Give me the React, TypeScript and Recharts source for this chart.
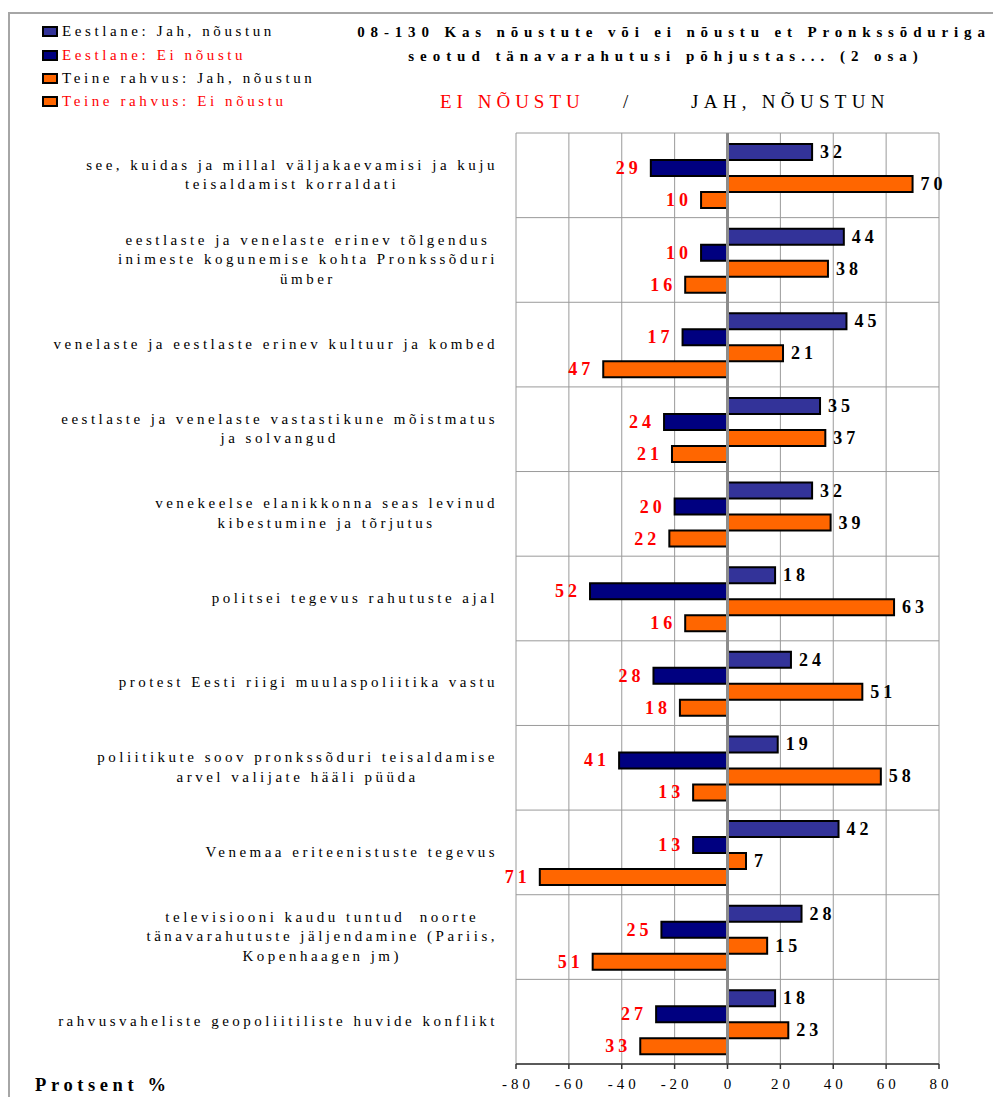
import React from "react";
import {
  BarChart,
  Bar,
  XAxis,
  YAxis,
  CartesianGrid,
  ReferenceLine,
  LabelList,
  Legend,
} from "recharts";

const categories: string[] = [
  "see, kuidas ja millal väljakaevamisi ja kuju\nteisaldamist korraldati",
  "eestlaste ja venelaste erinev tõlgendus\ninimeste kogunemise kohta Pronkssõduri\nümber",
  "venelaste ja eestlaste erinev kultuur ja kombed",
  "eestlaste ja venelaste vastastikune mõistmatus\nja solvangud",
  "venekeelse elanikkonna seas levinud\nkibestumine ja tõrjutus",
  "politsei tegevus rahutuste ajal",
  "protest Eesti riigi muulaspoliitika vastu",
  "poliitikute soov pronkssõduri teisaldamise\narvel valijate hääli püüda",
  "Venemaa eriteenistuste tegevus",
  "televisiooni kaudu tuntud  noorte\ntänavarahutuste jäljendamine (Pariis,\nKopenhaagen jm)",
  "rahvusvaheliste geopoliitiliste huvide konflikt",
];

const eestlaneJah: number[] = [32, 44, 45, 35, 32, 18, 24, 19, 42, 28, 18];
const eestlaneEi: number[] = [29, 10, 17, 24, 20, 52, 28, 41, 13, 25, 27];
const teineJah: number[] = [70, 38, 21, 37, 39, 63, 51, 58, 7, 15, 23];
const teineEi: number[] = [10, 16, 47, 21, 22, 16, 18, 13, 71, 51, 33];

const xTicks: number[] = [-80, -60, -40, -20, 0, 20, 40, 60, 80];

const seriesKeys: string[] = ["ej", "ee", "tj", "te"];
const seriesLabels: string[] = [
  "Eestlane: Jah, nõustun",
  "Eestlane: Ei nõustu",
  "Teine rahvus: Jah, nõustun",
  "Teine rahvus: Ei nõustu",
];
const seriesColors: string[] = ["#333399", "#000080", "#FF6600", "#FF6600"];

const titleLine1 = "08-130 Kas nõustute või ei nõustu et Pronkssõduriga";
const titleLine2 = "seotud tänavarahutusi põhjustas... (2 osa)";
const subNo = "EI NÕUSTU";
const subSlash = "/";
const subYes = "JAH, NÕUSTUN";
const axisTitle = "Protsent %";

const rows = categories.map((cat, i) => ({
  cat,
  ej: eestlaneJah[i],
  ee: -eestlaneEi[i],
  tj: teineJah[i],
  te: -teineEi[i],
}));

const FONT = '"Liberation Serif", "Times New Roman", serif';

const YTick = (props: any) => {
  const { y, payload } = props;
  return (
    <g>
      <foreignObject x={14} y={y - 45} width={484} height={90}>
        <div
          style={{
            display: "flex",
            height: "100%",
            alignItems: "center",
            justifyContent: "flex-end",
          }}
        >
          <div
            style={{
              textAlign: "center",
              whiteSpace: "pre",
              fontFamily: FONT,
              fontSize: 15,
              letterSpacing: "3.5px",
              lineHeight: "19.5px",
              color: "#000",
            }}
          >
            {String(payload.value)}
          </div>
        </div>
      </foreignObject>
    </g>
  );
};

const XTick = (props: any) => {
  const { x, y, payload } = props;
  return (
    <text
      x={x + 2}
      y={y}
      dy={18}
      textAnchor="middle"
      fontFamily={FONT}
      fontSize={15}
      letterSpacing={4}
      fill="#000"
    >
      {payload.value}
    </text>
  );
};

const renderValueLabel = (props: any) => {
  const x = Number(props.x);
  const y = Number(props.y);
  const w = Number(props.width);
  const h = Number(props.height);
  const v = Number(props.value);
  const left = Math.min(x, x + w);
  const right = Math.max(x, x + w);
  const cy = y + h / 2;
  if (v >= 0) {
    return (
      <text
        x={right + 8}
        y={cy}
        dy={6}
        textAnchor="start"
        fontFamily={FONT}
        fontWeight="bold"
        fontSize={18}
        letterSpacing={4}
        fill="#000"
      >
        {Math.abs(v)}
      </text>
    );
  }
  return (
    <text
      x={left - 9}
      y={cy}
      dy={6}
      textAnchor="end"
      fontFamily={FONT}
      fontWeight="bold"
      fontSize={18}
      letterSpacing={4}
      fill="#FF0000"
    >
      {Math.abs(v)}
    </text>
  );
};

const LegendContent = (props: any) => {
  const payload: any[] = props.payload || [];
  const ordered = seriesLabels
    .map((lab) => payload.find((p: any) => p.value === lab))
    .filter(Boolean);
  return (
    <div style={{ fontFamily: FONT }}>
      {ordered.map((item: any, i: number) => {
        const isNo = String(item.value).indexOf("Ei") >= 0;
        return (
          <div
            key={i}
            style={{
              display: "flex",
              alignItems: "center",
              height: 23.4,
            }}
          >
            <span
              style={{
                display: "inline-block",
                width: 12,
                height: 7,
                background: item.color,
                border: "2px solid #000",
                marginRight: 4,
              }}
            />
            <span
              style={{
                fontSize: 15,
                letterSpacing: "3.6px",
                color: isNo ? "#FF0000" : "#000",
                whiteSpace: "nowrap",
              }}
            >
              {item.value}
            </span>
          </div>
        );
      })}
    </div>
  );
};

const gridRows = ({ offset }: any) => {
  const top = offset && typeof offset.top === "number" ? offset.top : 133;
  const height =
    offset && typeof offset.height === "number" ? offset.height : 931;
  const n = categories.length;
  const out: number[] = [];
  for (let i = 0; i <= n; i++) out.push(top + (i * height) / n);
  return out;
};

export default function App() {
  return (
    <div
      style={{
        position: "absolute",
        left: 0,
        top: 0,
        width: 993,
        height: 1097,
        overflow: "hidden",
        background: "#fff",
        fontFamily: FONT,
      }}
    >
      <div
        style={{
          position: "absolute",
          left: 8,
          top: 12,
          width: 2000,
          height: 2000,
          borderLeft: "2px solid #a6a6a6",
          borderTop: "2px solid #a6a6a6",
          pointerEvents: "none",
        }}
      />
      <div style={{ position: "absolute", left: 0, top: 0 }}>
        <BarChart
          layout="vertical"
          width={993}
          height={1097}
          data={rows}
          margin={{ top: 133, right: 54, bottom: 3, left: 0 }}
          barCategoryGap="13%"
          barGap={0}
          style={{ fontFamily: FONT }}
        >
          <CartesianGrid
            stroke="#9a9a9a"
            strokeWidth={1}
            horizontalCoordinatesGenerator={gridRows}
          />
          <XAxis
            type="number"
            domain={[-80, 80]}
            ticks={xTicks}
            interval={0}
            height={30}
            axisLine={{ stroke: "#333", strokeWidth: 1.5 }}
            tickLine={{ stroke: "#333", strokeWidth: 1.5 }}
            tickSize={5}
            tick={<XTick />}
          />
          <YAxis
            type="category"
            dataKey="cat"
            width={516}
            axisLine={false}
            tickLine={false}
            interval={0}
            tick={<YTick />}
          />
          <Legend
            layout="horizontal"
            verticalAlign="middle"
            align="center"
            itemSorter={(item: any) => seriesLabels.indexOf(String(item.value))}
            content={<LegendContent />}
            wrapperStyle={{ top: 20, left: 42, width: 320, height: 96 }}
          />
          <ReferenceLine x={0} stroke="#8c8c8c" strokeWidth={3} />
          {seriesKeys.map((k, i) => (
            <Bar
              key={k}
              dataKey={k}
              name={seriesLabels[i]}
              fill={seriesColors[i]}
              stroke="#000"
              strokeWidth={2}
              isAnimationActive={false}
            >
              <LabelList dataKey={k} content={renderValueLabel} />
            </Bar>
          ))}
        </BarChart>
      </div>

      <div
        style={{
          position: "absolute",
          left: 300,
          width: 748,
          top: 22,
          lineHeight: "20px",
          fontSize: 15,
          fontWeight: "bold",
          letterSpacing: "5.85px",
          textAlign: "center",
          whiteSpace: "nowrap",
          color: "#000",
        }}
      >
        {titleLine1}
      </div>
      <div
        style={{
          position: "absolute",
          left: 366,
          width: 600,
          top: 46,
          lineHeight: "20px",
          fontSize: 15,
          fontWeight: "bold",
          letterSpacing: "5.95px",
          textAlign: "center",
          whiteSpace: "nowrap",
          color: "#000",
        }}
      >
        {titleLine2}
      </div>
      <div
        style={{
          position: "absolute",
          left: 440,
          top: 90,
          lineHeight: "24px",
          fontSize: 19,
          letterSpacing: "5px",
          whiteSpace: "nowrap",
          color: "#FF0000",
        }}
      >
        {subNo}
      </div>
      <div
        style={{
          position: "absolute",
          left: 623,
          top: 90,
          lineHeight: "24px",
          fontSize: 19,
          whiteSpace: "nowrap",
          color: "#000",
        }}
      >
        {subSlash}
      </div>
      <div
        style={{
          position: "absolute",
          left: 691,
          top: 90,
          lineHeight: "24px",
          fontSize: 19,
          letterSpacing: "5.3px",
          whiteSpace: "nowrap",
          color: "#000",
        }}
      >
        {subYes}
      </div>
      <div
        style={{
          position: "absolute",
          left: 35,
          top: 1073,
          lineHeight: "24px",
          fontSize: 18.5,
          fontWeight: "bold",
          letterSpacing: "4.6px",
          whiteSpace: "nowrap",
          color: "#000",
        }}
      >
        {axisTitle}
      </div>
    </div>
  );
}
